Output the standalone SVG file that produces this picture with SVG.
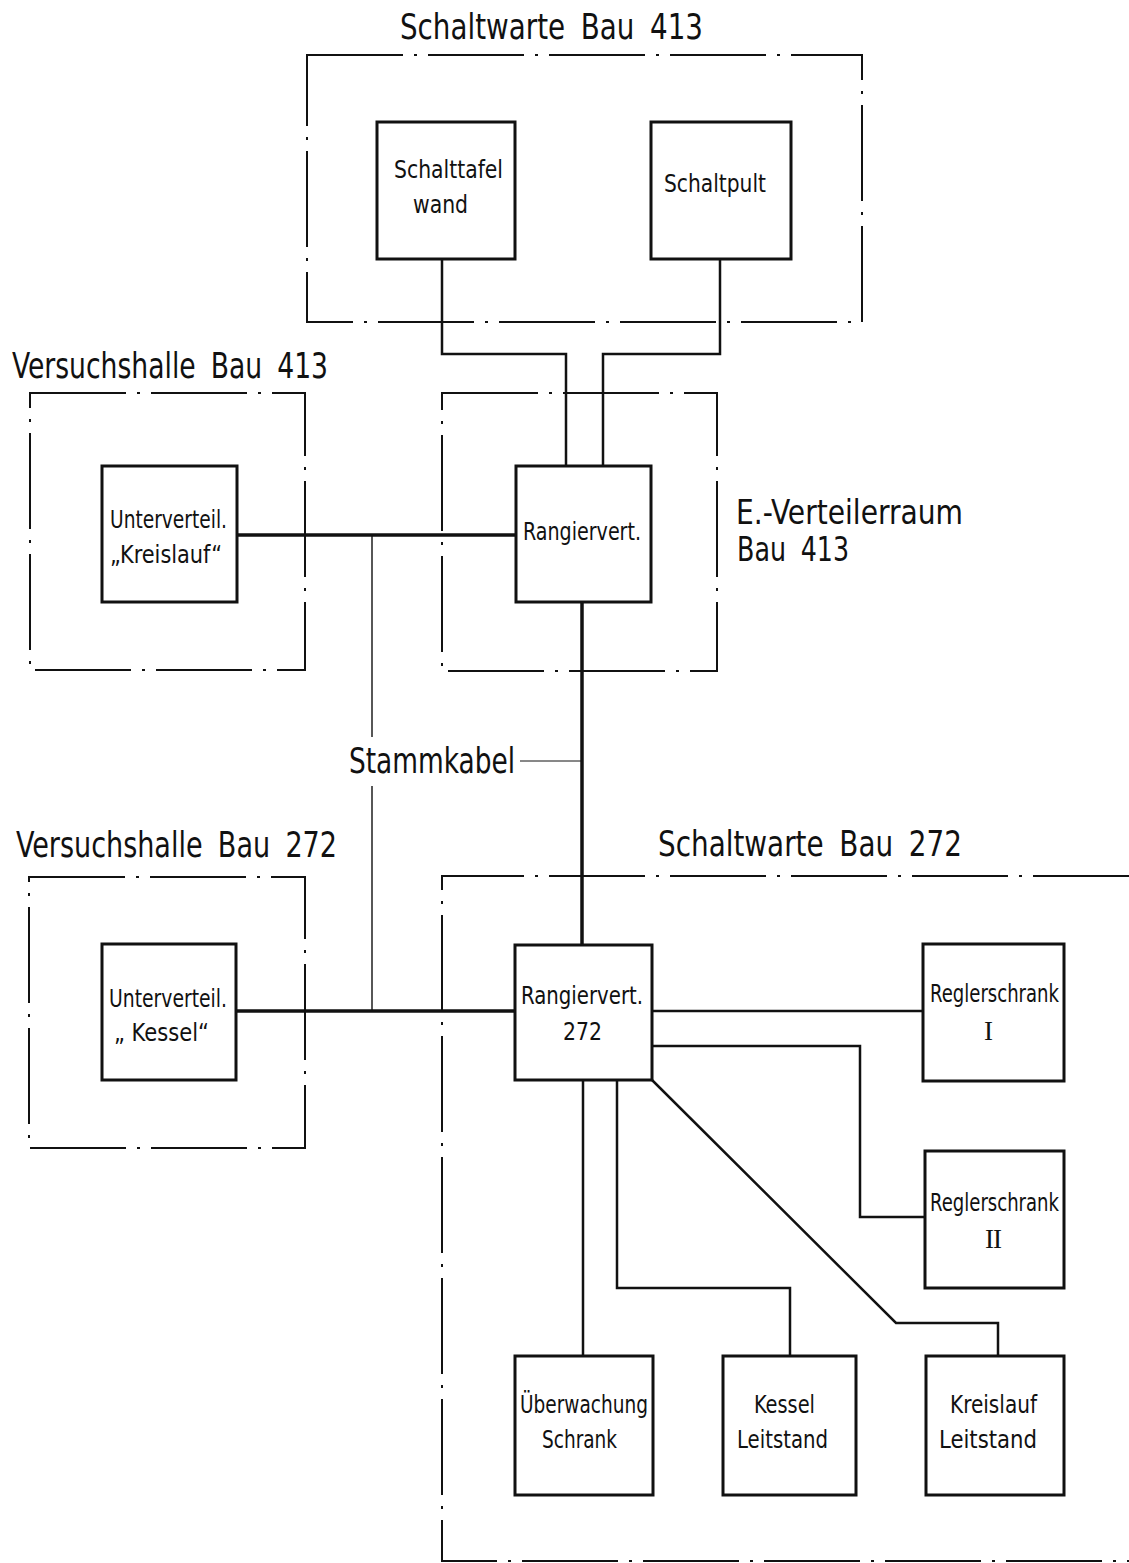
<svg xmlns="http://www.w3.org/2000/svg" width="1129" height="1563" viewBox="0 0 1129 1563">
<style>
  .zone{fill:none;stroke:#111;stroke-width:2;stroke-dasharray:96 11 3 11}
  .box{fill:#fff;stroke:#111;stroke-width:3}
  .wire{fill:none;stroke:#111;stroke-width:2.5;stroke-linejoin:miter}
  .thick{stroke-width:3.5}
  .thin{stroke-width:1.4}
  .hair{stroke-width:1}
  text{font-family:"DejaVu Sans Condensed","Liberation Sans Narrow","Liberation Sans",sans-serif;fill:#111}
  .title{font-size:36px;word-spacing:8px}
  .lbl{font-size:25px}
  .roman{font-family:"Liberation Serif","DejaVu Serif",serif;font-size:27px}
</style>
<rect width="1129" height="1563" fill="#fff"/>

<!-- zones -->
<g id="zones">
  <g id="zone-schaltwarte-413">
    <path class="zone" d="M307,55 H862 V322 H307 Z"/>
    <text class="title" x="400" y="39" textLength="303" lengthAdjust="spacingAndGlyphs">Schaltwarte Bau 413</text>
  </g>
  <g id="zone-versuchshalle-413">
    <path class="zone" d="M30,393 H305 V670 H30 Z"/>
    <text class="title" x="12" y="378" textLength="316" lengthAdjust="spacingAndGlyphs">Versuchshalle Bau 413</text>
  </g>
  <g id="zone-verteilerraum-413">
    <path class="zone" d="M442,393 H717 V671 H442 Z"/>
    <text class="title" style="font-size:34px"><tspan x="736" y="524" textLength="227" lengthAdjust="spacingAndGlyphs">E.-Verteilerraum</tspan><tspan x="737" y="561" textLength="112" lengthAdjust="spacingAndGlyphs">Bau 413</tspan></text>
  </g>
  <g id="zone-versuchshalle-272">
    <path class="zone" d="M29,877 H305 V1148 H29 Z"/>
    <text class="title" x="16" y="857" textLength="321" lengthAdjust="spacingAndGlyphs">Versuchshalle Bau 272</text>
  </g>
  <g id="zone-schaltwarte-272">
    <path class="zone" d="M1129,876 H442 V1561 H1129"/>
    <text class="title" x="658" y="856" textLength="304" lengthAdjust="spacingAndGlyphs">Schaltwarte Bau 272</text>
  </g>
</g>

<!-- connectors -->
<g id="connectors">
  <path class="wire" d="M442,259 V354 H566 V466"/>
  <path class="wire" d="M720,259 V354 H603 V466"/>
  <path class="wire thick" d="M237,535 H516"/>
  <path class="wire thick" d="M582,602 V945"/>
  <path class="wire thick" d="M236,1011 H515"/>
  <path class="wire thin" d="M372,535 V737 M372,786 V1011"/>
  <path class="wire hair" d="M520,761 H582"/>
  <path class="wire" d="M652,1011 H923"/>
  <path class="wire" d="M652,1046 H860 V1217 H925"/>
  <path class="wire" d="M652,1080 L896,1323 H998 V1356"/>
  <path class="wire" d="M583,1080 V1356"/>
  <path class="wire" d="M617,1080 V1288 H790 V1356"/>
  <text class="title" x="349" y="773" textLength="166" lengthAdjust="spacingAndGlyphs">Stammkabel</text>
</g>

<!-- nodes -->
<g id="node-schalttafelwand">
  <rect class="box" x="377" y="122" width="138" height="137"/>
  <text class="lbl" x="394" y="178" textLength="109" lengthAdjust="spacingAndGlyphs">Schalttafel</text>
  <text class="lbl" x="413" y="213" textLength="55" lengthAdjust="spacingAndGlyphs">wand</text>
</g>
<g id="node-schaltpult">
  <rect class="box" x="651" y="122" width="140" height="137"/>
  <text class="lbl" x="664" y="192" textLength="102" lengthAdjust="spacingAndGlyphs">Schaltpult</text>
</g>
<g id="node-rangiervert-413">
  <rect class="box" x="516" y="466" width="135" height="136"/>
  <text class="lbl" x="523" y="540" textLength="118" lengthAdjust="spacingAndGlyphs">Rangiervert.</text>
</g>
<g id="node-unterverteil-kreislauf">
  <rect class="box" x="102" y="466" width="135" height="136"/>
  <text class="lbl" x="110" y="528" textLength="117" lengthAdjust="spacingAndGlyphs">Unterverteil.</text>
  <text class="lbl" x="110" y="563" textLength="112" lengthAdjust="spacingAndGlyphs">„Kreislauf“</text>
</g>
<g id="node-unterverteil-kessel">
  <rect class="box" x="102" y="944" width="134" height="136"/>
  <text class="lbl" x="109" y="1007" textLength="118" lengthAdjust="spacingAndGlyphs">Unterverteil.</text>
  <text class="lbl" x="114" y="1041" textLength="95" lengthAdjust="spacingAndGlyphs">„ Kessel“</text>
</g>
<g id="node-rangiervert-272">
  <rect class="box" x="515" y="945" width="137" height="135"/>
  <text class="lbl" x="521" y="1004" textLength="122" lengthAdjust="spacingAndGlyphs">Rangiervert.</text>
  <text class="lbl" x="563" y="1040" textLength="39" lengthAdjust="spacingAndGlyphs">272</text>
</g>
<g id="node-reglerschrank-1">
  <rect class="box" x="923" y="944" width="141" height="137"/>
  <text class="lbl" x="930" y="1002" textLength="129" lengthAdjust="spacingAndGlyphs">Reglerschrank</text>
  <text class="roman" x="984" y="1040">I</text>
</g>
<g id="node-reglerschrank-2">
  <rect class="box" x="925" y="1151" width="139" height="137"/>
  <text class="lbl" x="930" y="1211" textLength="129" lengthAdjust="spacingAndGlyphs">Reglerschrank</text>
  <text class="roman" x="985" y="1248" textLength="17" lengthAdjust="spacing">II</text>
</g>
<g id="node-ueberwachung">
  <rect class="box" x="515" y="1356" width="138" height="139"/>
  <text class="lbl" x="520" y="1413" textLength="128" lengthAdjust="spacingAndGlyphs">Überwachung</text>
  <text class="lbl" x="542" y="1448" textLength="75" lengthAdjust="spacingAndGlyphs">Schrank</text>
</g>
<g id="node-kessel-leitstand">
  <rect class="box" x="723" y="1356" width="133" height="139"/>
  <text class="lbl" x="754" y="1413" textLength="61" lengthAdjust="spacingAndGlyphs">Kessel</text>
  <text class="lbl" x="737" y="1448" textLength="91" lengthAdjust="spacingAndGlyphs">Leitstand</text>
</g>
<g id="node-kreislauf-leitstand">
  <rect class="box" x="926" y="1356" width="138" height="139"/>
  <text class="lbl" x="950" y="1413" textLength="87" lengthAdjust="spacingAndGlyphs">Kreislauf</text>
  <text class="lbl" x="939" y="1448" textLength="98" lengthAdjust="spacingAndGlyphs">Leitstand</text>
</g>
</svg>
